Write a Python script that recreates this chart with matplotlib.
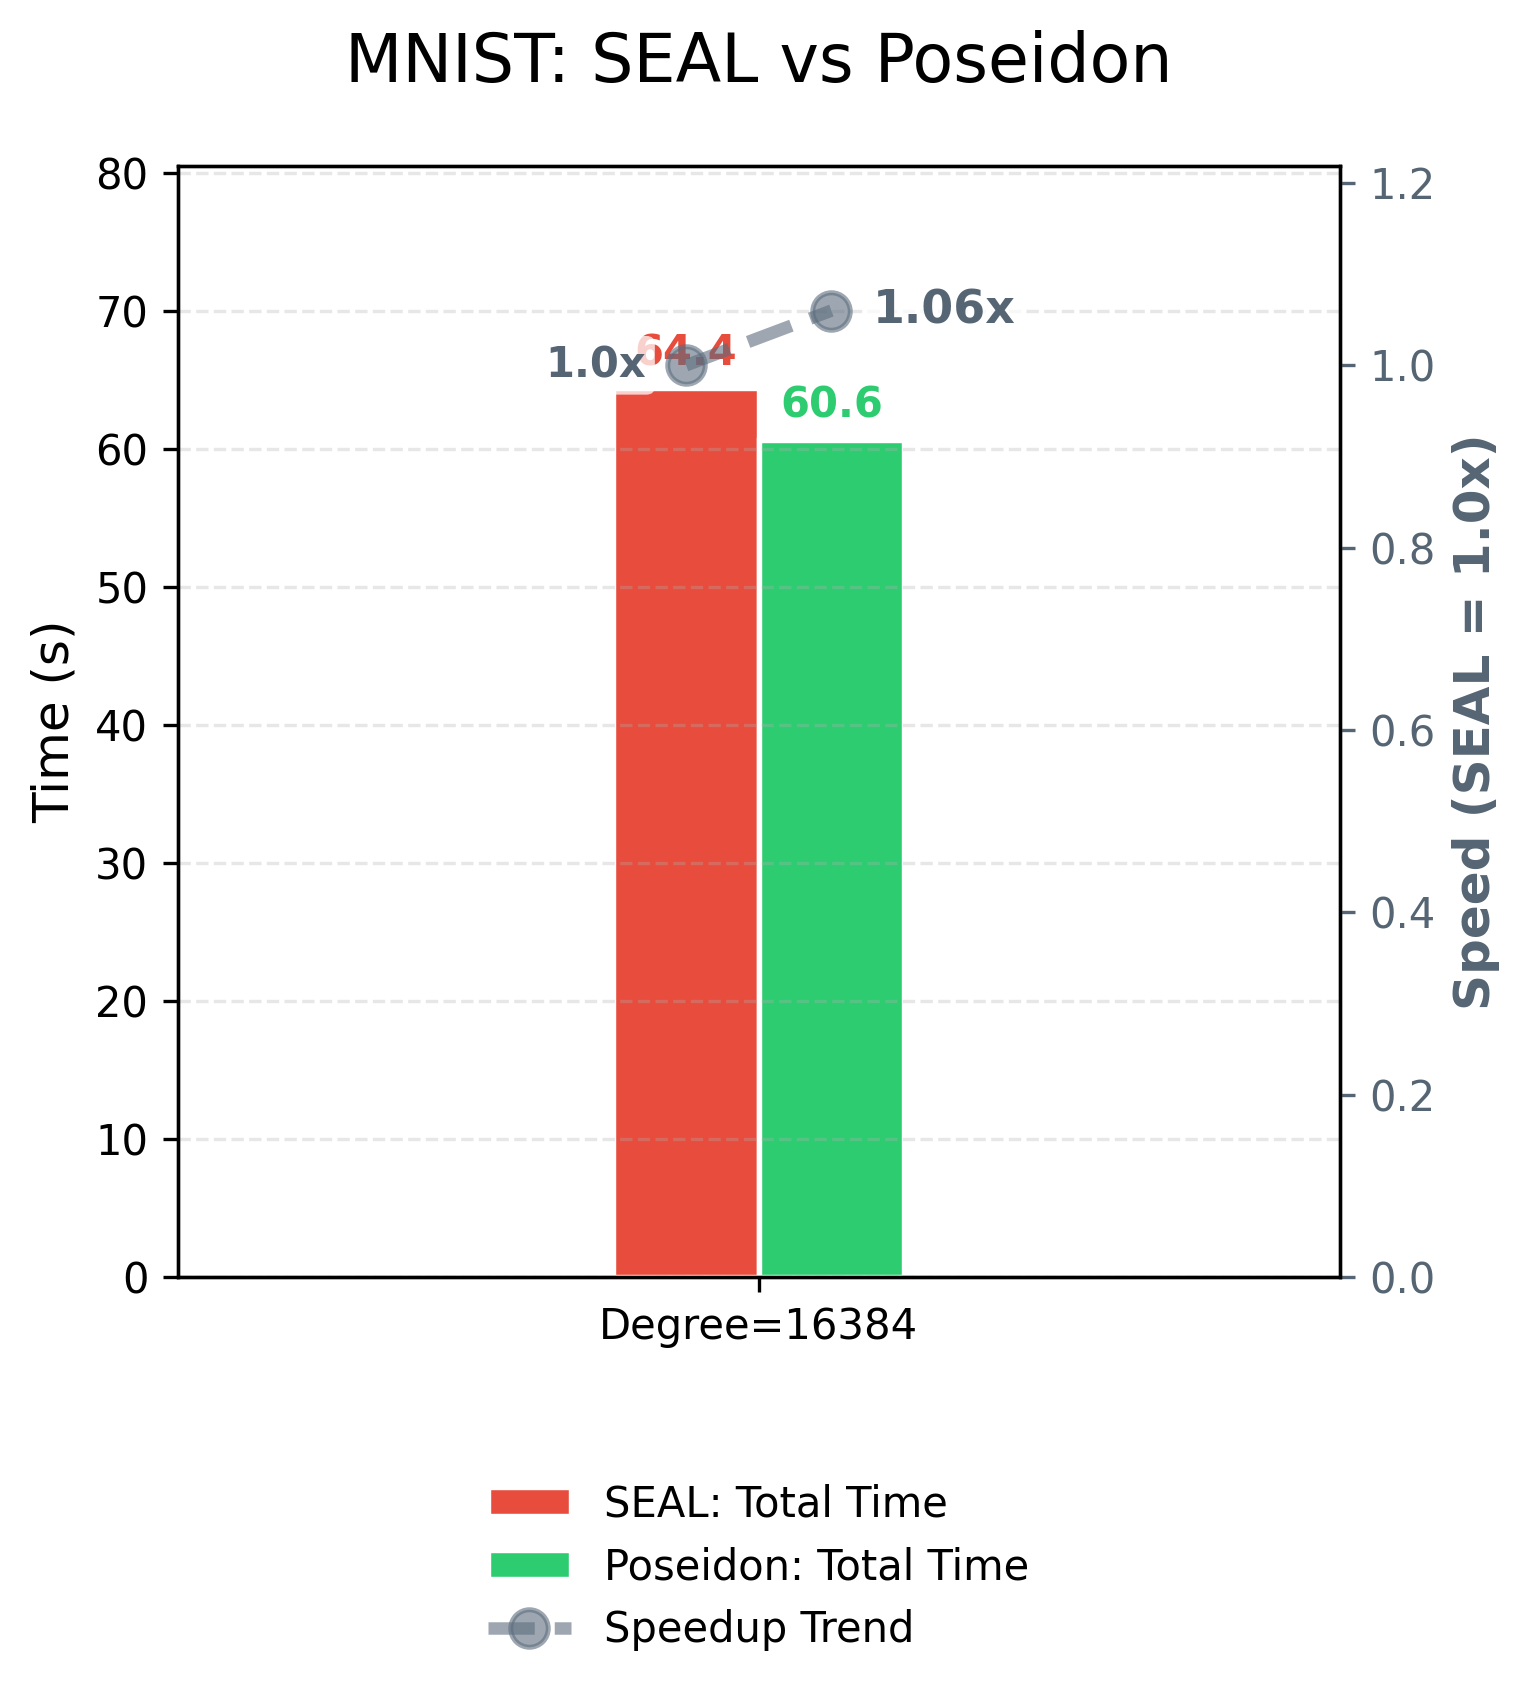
import numpy as np
import matplotlib
matplotlib.use("Agg")
from matplotlib import pyplot as plt

# values
categories = ["Degree=16384"]
seal_times = [64.4]
poseidon_times = [60.6]
speedups = [1.0, 1.06]
speedup_labels = ["1.0x", "1.06x"]

seal_color = '#e74c3c'
poseidon_color = '#2ecc71'
trend_color = '#5d6d7e'
text_color = '#566573'

fig, ax1 = plt.subplots(figsize=(1529 / 300, 1697 / 300), dpi=300)
fig.subplots_adjust(left=0.1161, right=0.8764, top=0.9024, bottom=0.2475)

x = np.arange(len(categories))
width = 0.25

bars1 = ax1.bar(x - width / 2, seal_times, width, color=seal_color,
                edgecolor='white', linewidth=1.3, label='SEAL: Total Time')
bars2 = ax1.bar(x + width / 2, poseidon_times, width, color=poseidon_color,
                edgecolor='white', linewidth=1.3, label='Poseidon: Total Time')

for bar, col in [(bars1[0], seal_color), (bars2[0], poseidon_color)]:
    h = bar.get_height()
    ax1.text(bar.get_x() + bar.get_width() / 2, h + 1.0, f"{h:.1f}",
             ha='center', va='bottom', fontsize=10, fontweight='bold', color=col)

ax1.set_ylim(0, max(seal_times) * 1.25)
ax1.set_xlim(-1, 1)
ax1.set_xticks(x)
ax1.set_xticklabels(categories, fontsize=10)
ax1.set_ylabel("Time (s)", fontsize=12)
ax1.tick_params(axis='y', labelsize=10)
ax1.grid(axis='y', linestyle='--', alpha=0.3)
ax1.set_title("MNIST: SEAL vs Poseidon", fontsize=16, pad=20)

# speedup trend on the second axis
ax2 = ax1.twinx()
px = [x[0] - width / 2, x[0] + width / 2]
line, = ax2.plot(px, speedups, linestyle='--', marker='o', color=trend_color,
                 alpha=0.6, linewidth=3, markersize=9, markeredgewidth=1.2,
                 label='Speedup Trend')
ax2.set_ylim(0, max(speedups) * 1.15)
ax2.set_ylabel("Speed (SEAL = 1.0x)", fontsize=12, fontweight='bold', color=text_color)
ax2.tick_params(axis='y', colors=text_color, labelsize=10)

box = dict(boxstyle='round,pad=0.2', facecolor='white', edgecolor='none', alpha=0.75)
ax2.annotate(speedup_labels[0], (px[0], speedups[0]), xytext=(-9.5, 0),
             textcoords='offset points', ha='right', va='center',
             fontsize=10, fontweight='bold', color=text_color, bbox=box)
ax2.annotate(speedup_labels[1], (px[1], speedups[1]), xytext=(10, 0),
             textcoords='offset points', ha='left', va='center',
             fontsize=11, fontweight='bold', color=text_color, bbox=box)

handles = [bars1, bars2, line]
labels = [h.get_label() for h in handles]
ax1.legend(handles, labels, loc='upper center', bbox_to_anchor=(0.5, -0.152),
           frameon=False, fontsize=10)

fig.savefig("out.png", dpi=300)
